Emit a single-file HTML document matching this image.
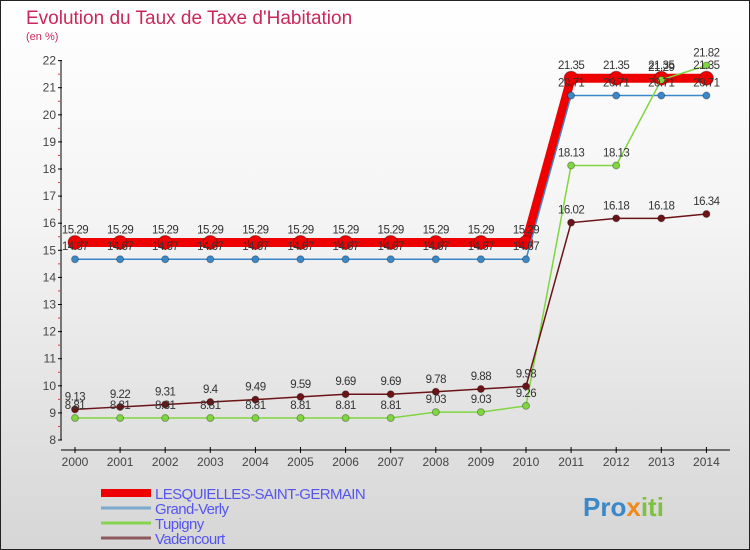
<!DOCTYPE html>
<html><head><meta charset="utf-8"><style>
body{margin:0;}
#c{width:750px;height:550px;position:relative;box-sizing:border-box;border:1px solid #222;background:linear-gradient(#fff 0%,#f4f4f4 40%,#d6d6d6 100%);font-family:"Liberation Sans",sans-serif;overflow:hidden}
</style></head><body>
<div id="c">
<svg id="s" width="750" height="550" style="position:absolute;left:-1px;top:-1px"></svg>
</div>
<script>
const years=[2000,2001,2002,2003,2004,2005,2006,2007,2008,2009,2010,2011,2012,2013,2014];
const lesq=[15.29,15.29,15.29,15.29,15.29,15.29,15.29,15.29,15.29,15.29,15.29,21.35,21.35,21.35,21.35];
const grand=[14.67,14.67,14.67,14.67,14.67,14.67,14.67,14.67,14.67,14.67,14.67,20.71,20.71,20.71,20.71];
const tup=[8.81,8.81,8.81,8.81,8.81,8.81,8.81,8.81,9.03,9.03,9.26,18.13,18.13,21.29,21.82];
const vad=[9.13,9.22,9.31,9.4,9.49,9.59,9.69,9.69,9.78,9.88,9.98,16.02,16.18,16.18,16.34];
const yTicks=[8,9,10,11,12,13,14,15,16,17,18,19,20,21,22];
const seriesNames=["LESQUIELLES-SAINT-GERMAIN","Grand-Verly","Tupigny","Vadencourt"];
const NS="http://www.w3.org/2000/svg";
const s=document.getElementById('s');
const X=i=>75+i*45.1;
const Y=v=>440-(v-8)*27.1;
function mk(t,a,txt,p){const e=document.createElementNS(NS,t);for(const k in a)e.setAttribute(k,a[k]);if(txt!==undefined)e.textContent=txt;(p||s).appendChild(e);return e;}
let e;
e=mk('text',{x:26,y:24,fill:'#c8285a','font-size':19},'Evolution du Taux de Taxe d\'Habitation');

e=mk('text',{x:26,y:40,fill:'#c8285a','font-size':11},'(en %)');

e=mk('line',{x1:61,y1:Y(22),x2:61,y2:Y(8),stroke:'#000'});

e=mk('line',{x1:61,y1:450,x2:730,y2:450,stroke:'#000'});

yTicks.forEach(v=>{
 e=mk('line',{x1:58,y1:Y(v),x2:62,y2:Y(v),stroke:'#000'});
 
 if(v<22){e=mk('line',{x1:58,y1:Y(v+0.5),x2:60,y2:Y(v+0.5),stroke:'#e33'});
 }
 e=mk('text',{x:56,y:Y(v)+4,'text-anchor':'end','font-size':12,fill:'#444'},v);
 
});
years.forEach((yr,i)=>{
 e=mk('line',{x1:X(i),y1:447,x2:X(i),y2:453,stroke:'#000'});
 
 e=mk('text',{x:X(i),y:466,'text-anchor':'middle','font-size':12,fill:'#444'},yr);
 
});
function series(d,col,w,r,name){
 e=mk('polyline',{points:d.map((v,i)=>X(i)+','+Y(v)).join(' '),fill:'none',stroke:col,'stroke-width':w});
 
 d.forEach((v,i)=>{
  e=mk('circle',{cx:X(i),cy:Y(v),r:r,fill:col,stroke:'rgba(0,0,0,0.3)'});
  
 });
}
series(lesq,'#ee0000',9,7,'lesquielles');
series(grand,'#3a88c8',1.5,3.5,'grand-verly');
series(tup,'#7fd640',1.5,3.5,'tupigny');
series(vad,'#6b1417',1.5,3.5,'vadencourt');
[lesq,grand,tup,vad].forEach((d,k)=>d.forEach((v,i)=>{
 e=mk('text',{x:X(i),y:Y(v)-9,'text-anchor':'middle','font-size':11.5,fill:'#333','letter-spacing':'-0.5'},v);
 
}));
const lc=['#ee0000','#7aa9cc','#88d450','#8f5a5c'],lw=[8,3,3,3];
seriesNames.forEach((n,k)=>{
 const y=493+k*15;
 e=mk('line',{x1:101,y1:y,x2:151,y2:y,stroke:lc[k],'stroke-width':lw[k]});
 
 e=mk('text',{x:155,y:y+6,'font-size':15,fill:'#5555ee','letter-spacing':'-0.6'},n);
 
});
const logo=mk('text',{x:583,y:516,'font-size':26,'font-weight':'bold'});


mk('tspan',{fill:'#3a88c8'},'Pro',logo);
mk('tspan',{fill:'#f08a1c'},'x',logo);
mk('tspan',{fill:'#7fc040'},'iti',logo);
</script>
</body></html>
